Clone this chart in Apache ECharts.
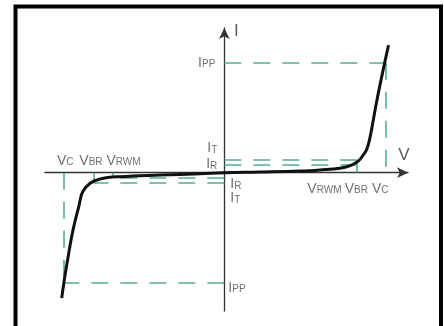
<!DOCTYPE html>
<html>
<head>
	<meta charset="utf-8">
	<title>TVS I-V</title>
	<script src="https://cdn.jsdelivr.net/npm/echarts@6/dist/echarts.min.js"></script>
	<style>
		html, body { margin: 0; padding: 0; background: #fff; }
		#main { width: 444px; height: 326px; }
	</style>
</head>
<body>
<div id="main"></div>
<script>
	// characteristic points (V in "volts", I in "amps", arbitrary units)
	var VC = 10, VBR = 8.2, VRWM = 6.9;
	var VC_N = -9.95, VBR_N = -8.1, VRWM_N = -6.95;
	var IPP = 10, IT = 1.2, IR = 0.7;
	var IPP_N = -10, IT_N = -0.88, IR_N = -0.48;

	// the curve (left branch then right branch)
	var curveV = [-10.1, -9.96, -9.79, -9.42, -9.02, -8.8, -8.34, -7.72, -6.48, -4.0, -1.5, 0,
		2.2, 4.7, 5.94, 7.18, 7.9, 8.37, 8.62, 8.84, 9.02, 9.2, 9.5, 9.97, 10.2];
	var curveI = [-11.4, -9.94, -8.39, -5.36, -2.94, -1.73, -0.96, -0.57, -0.36, -0.21, -0.1, 0,
		0.06, 0.15, 0.25, 0.4, 0.68, 1.12, 1.6, 2.1, 3.0, 4.35, 6.75, 10.05, 11.6];

	var chart = echarts.init(document.getElementById('main'), null, {renderer: 'canvas'});

	var curve = curveV.map(function (v, i) { return [v, curveI[i]]; });

	// dashed guide lines
	var guides = [
		[[0, IPP], [VC, IPP]], [[VC, IPP], [VC, 0]],
		[[0, IT], [VBR, IT]], [[0, IR], [VBR, IR]], [[VBR, IT], [VBR, 0]],
		[[0, IPP_N], [VC_N, IPP_N]], [[VC_N, 0], [VC_N, IPP_N]],
		[[0, IR_N], [VRWM_N, IR_N]], [[0, IT_N], [VBR_N, IT_N]],
		[[VBR_N, 0], [VBR_N, IT_N]], [[VRWM_N, 0], [VRWM_N, IR_N]]
	];

	var txt = '#4a4a4a';
	var XMIN = -11.14, XMAX = 11.41, YMIN = -12.57, YMAX = 13.15;

	function lab(name, at, pos, off) {
		return {name: name, value: at, label: {position: pos, offset: off}};
	}
	var labels = [
		lab('{m|I}{s|PP}', [0, IPP], 'left', [-5, -1]),
		lab('{m|I}{s|T}', [0, IT], 'left', [-3, -12]),
		lab('{m|I}{s|R}', [0, IR], 'left', [-3, -2]),
		lab('{m|I}{s|R}', [0, IR_N], 'right', [2, 5]),
		lab('{m|I}{s|T}', [0, IT_N], 'right', [2, 15]),
		lab('{m|I}{s|PP}', [0, IPP_N], 'right', [0, 4]),
		lab('{m|V}{s|C}', [VC_N, 0], 'top', [1, -1]),
		lab('{m|V}{s|BR}', [VBR_N, 0], 'top', [-3, -1]),
		lab('{m|V}{s|RWM}', [VRWM_N, 0], 'top', [11, -1]),
		lab('{m|V}{s|RWM}', [VRWM, 0], 'bottom', [-11, 3]),
		lab('{m|V}{s|BR}', [VBR, 0], 'bottom', [0, 3]),
		lab('{m|V}{s|C}', [VC, 0], 'bottom', [-5, 3]),
		lab('{a|I}', [0, YMAX], 'inside', [12, 3]),
		lab('{a|V}', [XMAX, 0], 'inside', [-4, -17])
	];

	var option = {
		animation: false,
		grid: {left: 45, right: 36, top: 28, bottom: 15},
		graphic: [{
			type: 'rect',
			shape: {x: 15.5, y: 6.5, width: 425.5, height: 330},
			style: {fill: 'none', stroke: '#000', lineWidth: 4},
			z: 100
		}],
		xAxis: {
			type: 'value', min: XMIN, max: XMAX,
			axisLine: {onZero: true, symbol: ['none', 'arrow'], symbolSize: [8, 11], lineStyle: {color: '#333', width: 1.3}},
			axisTick: {show: false}, axisLabel: {show: false}, splitLine: {show: false}
		},
		yAxis: {
			type: 'value', min: YMIN, max: YMAX,
			axisLine: {onZero: true, symbol: ['none', 'arrow'], symbolSize: [8, 11], lineStyle: {color: '#333', width: 1.3}},
			axisTick: {show: false}, axisLabel: {show: false}, splitLine: {show: false}
		},
		series: [
			{
				type: 'lines',
				coordinateSystem: 'cartesian2d',
				polyline: false,
				silent: true,
				lineStyle: {color: '#4ea88c', width: 1.6, type: [17, 12], opacity: 0.95},
				data: guides.map(function (g) { return {coords: g}; }),
				z: 2
			},
			{
				type: 'line',
				data: curve,
				smooth: 0.4,
				symbol: 'none',
				lineStyle: {color: '#111', width: 3, join: 'round'},
				z: 5
			},
			{
				type: 'scatter',
				symbolSize: 0,
				silent: true,
				data: labels,
				label: {
					show: true,
					distance: 4,
					formatter: function (p) { return p.name; },
					rich: {
						m: {fontSize: 14, fontFamily: 'Liberation Sans', color: txt, lineHeight: 16, verticalAlign: 'bottom'},
						s: {fontSize: 10, fontFamily: 'Liberation Sans', color: txt, lineHeight: 16, verticalAlign: 'bottom'},
						a: {fontSize: 17, fontFamily: 'Liberation Sans', color: '#333', lineHeight: 18}
					}
				},
				z: 10
			}
		]
	};

	option && chart.setOption(option);
</script>
</body>
</html>
